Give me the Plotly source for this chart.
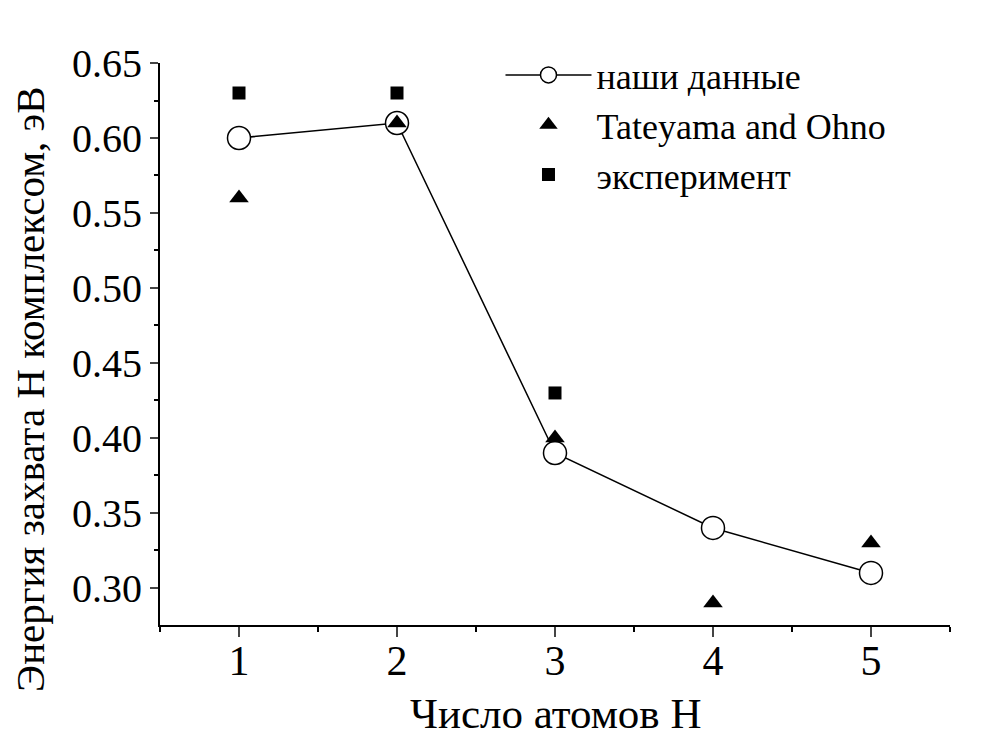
import plotly.graph_objects as go

x_atoms = [1, 2, 3, 4, 5]
our_data = [0.60, 0.61, 0.39, 0.34, 0.31]
tateyama_x = [1, 2, 3, 4, 5]
tateyama = [0.56, 0.61, 0.40, 0.29, 0.33]
exp_x = [1, 2, 3]
experiment = [0.63, 0.63, 0.43]

y_ticks = [0.30, 0.35, 0.40, 0.45, 0.50, 0.55, 0.60, 0.65]
y_tick_labels = ["0.30", "0.35", "0.40", "0.45", "0.50", "0.55", "0.60", "0.65"]
x_ticks = [1, 2, 3, 4, 5]

FONT = "Liberation Serif"

fig = go.Figure()
fig.add_trace(go.Scatter(
    x=x_atoms, y=our_data, mode="lines+markers", name="наши данные",
    line=dict(color="black", width=1.5),
    marker=dict(symbol="circle", size=23, color="white", line=dict(color="black", width=1.5)),
))
fig.add_trace(go.Scatter(
    x=tateyama_x, y=tateyama, mode="markers", name="Tateyama and Ohno",
    marker=dict(symbol="triangle-up", size=17, color="black"),
))
fig.add_trace(go.Scatter(
    x=exp_x, y=experiment, mode="markers", name="эксперимент",
    marker=dict(symbol="square", size=13, color="black"),
))

fig.update_layout(
    width=1004, height=753,
    margin=dict(l=152, r=62, t=55, b=136, autoexpand=False),
    paper_bgcolor="white", plot_bgcolor="white",
    font=dict(family=FONT, size=38, color="black"),
    showlegend=True,
    legend=dict(x=0.431, y=1.032, xanchor="left", yanchor="top",
                bgcolor="rgba(0,0,0,0)", font=dict(family=FONT, size=36),
                itemwidth=86, tracegroupgap=0),
    xaxis=dict(
        range=[0.5, 5.5], tickvals=x_ticks, ticks="outside", ticklen=10, tickwidth=2,
        showline=True, linecolor="black", linewidth=2, showgrid=False, zeroline=False,
        tickfont=dict(family=FONT, size=42), automargin=False, ticklabelstandoff=-12,
        minor=dict(tickvals=[0.5, 1.5, 2.5, 3.5, 4.5, 5.5], ticks="outside", ticklen=5, tickwidth=2, tickcolor="black"),
    ),
    yaxis=dict(
        range=[0.2753, 0.65], tickvals=y_ticks, ticktext=y_tick_labels, ticks="outside",
        ticklen=8, tickwidth=2, automargin=False,
        showline=True, linecolor="black", linewidth=2, showgrid=False, zeroline=False,
        tickfont=dict(family=FONT, size=40),
        minor=dict(tickvals=[0.325, 0.375, 0.425, 0.475, 0.525, 0.575, 0.625],
                   ticks="outside", ticklen=4, tickwidth=2, tickcolor="black"),
    ),
)

# axis titles (positioned in paper coordinates)
fig.add_annotation(
    text="Число атомов Н",
    xref="paper", yref="paper", x=0.5, y=-0.158, xanchor="center", yanchor="middle",
    showarrow=False, font=dict(family=FONT, size=43, color="black"),
)
fig.add_annotation(
    text="Энергия захвата Н комплексом, эВ", textangle=-90,
    xref="paper", yref="paper", x=-0.1646, y=0.42, xanchor="center", yanchor="middle",
    showarrow=False, font=dict(family=FONT, size=41, color="black"),
)

fig.write_html("out.html")
